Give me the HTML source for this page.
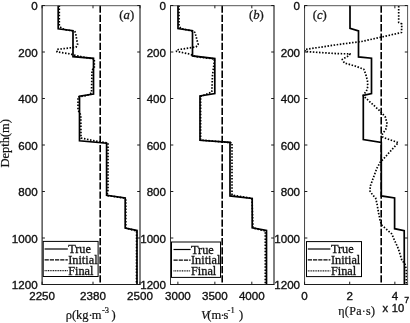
<!DOCTYPE html>
<html><head><meta charset="utf-8"><style>
html,body{margin:0;padding:0;background:#fff;}
svg{display:block;}
.tk{font-family:"Liberation Sans",Arial,sans-serif;font-size:11.6px;fill:#111;stroke:#111;stroke-width:0.35px;}
.al{font-family:"Liberation Serif","Times New Roman",serif;font-size:12.5px;fill:#111;stroke:#111;stroke-width:0.2px;}
.lg{font-family:"Liberation Serif","Times New Roman",serif;font-size:12.3px;fill:#111;stroke:#111;stroke-width:0.3px;}
.pl{font-family:"Liberation Serif","Times New Roman",serif;font-size:12.7px;fill:#1a1a1a;stroke:#1a1a1a;stroke-width:0.3px;}
</style></head><body>
<svg width="410" height="323" viewBox="0 0 410 323">
<rect width="410" height="323" fill="#fff"/>
<polyline points="59.30,5.50 59.30,26.00 62.00,28.50 66.00,29.80 74.50,31.20 75.50,32.60 77.60,44.60 76.00,47.20 57.00,49.40 57.00,51.90 70.40,53.90 73.50,55.00 85.00,57.50 94.30,59.00 94.30,68.00 92.00,70.00 91.50,93.00 87.00,95.50 78.00,97.00 78.00,110.00 80.80,115.00 81.00,138.00 95.00,141.00 108.00,143.00 108.00,190.00 107.00,195.50 124.00,198.00 125.80,200.00 125.80,228.00 136.60,231.00 136.50,284.00" fill="none" stroke="#000" stroke-width="1.7" stroke-dasharray="1.5 1.6" stroke-linejoin="round"/>
<line x1="100.20" y1="5.50" x2="100.20" y2="284.50" stroke="#000" stroke-width="1.6" stroke-dasharray="7.3 2.0"/>
<polyline points="58.20,5.50 58.20,28.80 73.00,30.70 73.00,56.60 93.50,58.40 93.50,94.00 79.50,96.20 79.50,140.80 106.60,143.20 106.60,195.30 125.20,198.00 125.20,228.00 137.00,230.40 137.00,284.00" fill="none" stroke="#000" stroke-width="1.7" stroke-linejoin="miter"/>
<rect x="43.20" y="241.40" width="54.90" height="35.10" fill="#fff" stroke="#000" stroke-width="1"/>
<line x1="44.60" y1="249.00" x2="67.80" y2="249.00" stroke="#000" stroke-width="1.2"/>
<text x="68.20" y="253.00" class="lg">True</text>
<line x1="44.60" y1="259.85" x2="67.80" y2="259.85" stroke="#000" stroke-width="1.2" stroke-dasharray="4.2 1.0"/>
<text x="68.20" y="263.85" class="lg">Initial</text>
<line x1="44.60" y1="270.70" x2="67.80" y2="270.70" stroke="#111" stroke-width="1.2" stroke-dasharray="1 0.7"/>
<text x="68.20" y="274.70" class="lg">Final</text>
<line x1="41.60" y1="5.70" x2="140.50" y2="5.70" stroke="#555" stroke-width="1"/>
<line x1="41.60" y1="284.50" x2="140.50" y2="284.50" stroke="#1e1e1e" stroke-width="1"/>
<line x1="42.10" y1="5.50" x2="42.10" y2="284.50" stroke="#000" stroke-width="1"/>
<line x1="140.00" y1="5.50" x2="140.00" y2="284.50" stroke="#000" stroke-width="1"/>
<line x1="42.10" y1="5.50" x2="44.90" y2="5.50" stroke="#1a1a1a" stroke-width="1"/>
<line x1="140.00" y1="5.50" x2="137.20" y2="5.50" stroke="#1a1a1a" stroke-width="1"/>
<text x="37.60" y="10.20" class="tk" text-anchor="end">0</text>
<line x1="42.10" y1="52.00" x2="44.90" y2="52.00" stroke="#1a1a1a" stroke-width="1"/>
<line x1="140.00" y1="52.00" x2="137.20" y2="52.00" stroke="#1a1a1a" stroke-width="1"/>
<text x="37.60" y="56.70" class="tk" text-anchor="end">200</text>
<line x1="42.10" y1="98.50" x2="44.90" y2="98.50" stroke="#1a1a1a" stroke-width="1"/>
<line x1="140.00" y1="98.50" x2="137.20" y2="98.50" stroke="#1a1a1a" stroke-width="1"/>
<text x="37.60" y="103.20" class="tk" text-anchor="end">400</text>
<line x1="42.10" y1="145.00" x2="44.90" y2="145.00" stroke="#1a1a1a" stroke-width="1"/>
<line x1="140.00" y1="145.00" x2="137.20" y2="145.00" stroke="#1a1a1a" stroke-width="1"/>
<text x="37.60" y="149.70" class="tk" text-anchor="end">600</text>
<line x1="42.10" y1="191.50" x2="44.90" y2="191.50" stroke="#1a1a1a" stroke-width="1"/>
<line x1="140.00" y1="191.50" x2="137.20" y2="191.50" stroke="#1a1a1a" stroke-width="1"/>
<text x="37.60" y="196.20" class="tk" text-anchor="end">800</text>
<line x1="42.10" y1="238.00" x2="44.90" y2="238.00" stroke="#1a1a1a" stroke-width="1"/>
<line x1="140.00" y1="238.00" x2="137.20" y2="238.00" stroke="#1a1a1a" stroke-width="1"/>
<text x="37.60" y="242.70" class="tk" text-anchor="end">1000</text>
<line x1="42.10" y1="284.50" x2="44.90" y2="284.50" stroke="#1a1a1a" stroke-width="1"/>
<line x1="140.00" y1="284.50" x2="137.20" y2="284.50" stroke="#1a1a1a" stroke-width="1"/>
<text x="37.60" y="289.20" class="tk" text-anchor="end">1200</text>
<line x1="42.10" y1="5.50" x2="42.10" y2="8.30" stroke="#1a1a1a" stroke-width="1"/>
<line x1="42.10" y1="284.50" x2="42.10" y2="281.70" stroke="#1a1a1a" stroke-width="1"/>
<text x="42.10" y="300.00" class="tk" text-anchor="middle">2250</text>
<line x1="93.01" y1="5.50" x2="93.01" y2="8.30" stroke="#1a1a1a" stroke-width="1"/>
<line x1="93.01" y1="284.50" x2="93.01" y2="281.70" stroke="#1a1a1a" stroke-width="1"/>
<text x="93.01" y="300.00" class="tk" text-anchor="middle">2380</text>
<line x1="140.00" y1="5.50" x2="140.00" y2="8.30" stroke="#1a1a1a" stroke-width="1"/>
<line x1="140.00" y1="284.50" x2="140.00" y2="281.70" stroke="#1a1a1a" stroke-width="1"/>
<text x="140.00" y="300.00" class="tk" text-anchor="middle">2500</text>
<text x="119.30" y="19.3" class="pl">(<tspan font-style="italic">a</tspan>)</text>
<polyline points="179.00,5.50 179.00,26.00 181.00,28.50 192.00,31.00 195.00,32.40 198.20,44.60 196.00,46.90 176.50,49.90 176.50,51.30 189.80,54.10 193.00,55.50 195.00,56.50 214.50,59.00 214.00,64.00 212.50,75.00 211.80,92.00 200.60,96.50 200.60,140.00 232.00,142.80 232.00,195.00 252.00,198.50 253.00,228.00 265.30,231.00 265.30,284.00" fill="none" stroke="#000" stroke-width="1.7" stroke-dasharray="1.5 1.6" stroke-linejoin="round"/>
<line x1="222.20" y1="5.50" x2="222.20" y2="284.50" stroke="#000" stroke-width="1.6" stroke-dasharray="7.3 2.0"/>
<polyline points="178.00,5.50 178.00,28.50 192.50,30.70 192.50,55.90 214.80,58.60 214.80,93.60 200.00,96.00 200.00,140.30 230.00,142.40 230.00,195.90 252.20,198.40 252.20,227.80 266.50,230.40 266.50,284.00" fill="none" stroke="#000" stroke-width="1.7" stroke-linejoin="miter"/>
<rect x="171.50" y="242.00" width="49.00" height="35.40" fill="#fff" stroke="#000" stroke-width="1"/>
<line x1="173.50" y1="249.50" x2="190.60" y2="249.50" stroke="#000" stroke-width="1.2"/>
<text x="191.00" y="253.50" class="lg">True</text>
<line x1="173.50" y1="260.20" x2="190.60" y2="260.20" stroke="#000" stroke-width="1.2" stroke-dasharray="4.2 1.0"/>
<text x="191.00" y="264.20" class="lg">Initial</text>
<line x1="173.50" y1="270.90" x2="190.60" y2="270.90" stroke="#111" stroke-width="1.2" stroke-dasharray="1 0.7"/>
<text x="191.00" y="274.90" class="lg">Final</text>
<line x1="170.00" y1="5.70" x2="274.50" y2="5.70" stroke="#555" stroke-width="1"/>
<line x1="170.00" y1="284.50" x2="274.50" y2="284.50" stroke="#1e1e1e" stroke-width="1"/>
<line x1="170.50" y1="5.50" x2="170.50" y2="284.50" stroke="#333" stroke-width="1"/>
<line x1="274.00" y1="5.50" x2="274.00" y2="284.50" stroke="#000" stroke-width="1"/>
<line x1="170.50" y1="5.50" x2="173.30" y2="5.50" stroke="#1a1a1a" stroke-width="1"/>
<line x1="274.00" y1="5.50" x2="271.20" y2="5.50" stroke="#1a1a1a" stroke-width="1"/>
<text x="166.00" y="10.20" class="tk" text-anchor="end">0</text>
<line x1="170.50" y1="52.00" x2="173.30" y2="52.00" stroke="#1a1a1a" stroke-width="1"/>
<line x1="274.00" y1="52.00" x2="271.20" y2="52.00" stroke="#1a1a1a" stroke-width="1"/>
<text x="166.00" y="56.70" class="tk" text-anchor="end">200</text>
<line x1="170.50" y1="98.50" x2="173.30" y2="98.50" stroke="#1a1a1a" stroke-width="1"/>
<line x1="274.00" y1="98.50" x2="271.20" y2="98.50" stroke="#1a1a1a" stroke-width="1"/>
<text x="166.00" y="103.20" class="tk" text-anchor="end">400</text>
<line x1="170.50" y1="145.00" x2="173.30" y2="145.00" stroke="#1a1a1a" stroke-width="1"/>
<line x1="274.00" y1="145.00" x2="271.20" y2="145.00" stroke="#1a1a1a" stroke-width="1"/>
<text x="166.00" y="149.70" class="tk" text-anchor="end">600</text>
<line x1="170.50" y1="191.50" x2="173.30" y2="191.50" stroke="#1a1a1a" stroke-width="1"/>
<line x1="274.00" y1="191.50" x2="271.20" y2="191.50" stroke="#1a1a1a" stroke-width="1"/>
<text x="166.00" y="196.20" class="tk" text-anchor="end">800</text>
<line x1="170.50" y1="238.00" x2="173.30" y2="238.00" stroke="#1a1a1a" stroke-width="1"/>
<line x1="274.00" y1="238.00" x2="271.20" y2="238.00" stroke="#1a1a1a" stroke-width="1"/>
<text x="166.00" y="242.70" class="tk" text-anchor="end">1000</text>
<line x1="170.50" y1="284.50" x2="173.30" y2="284.50" stroke="#1a1a1a" stroke-width="1"/>
<line x1="274.00" y1="284.50" x2="271.20" y2="284.50" stroke="#1a1a1a" stroke-width="1"/>
<text x="166.00" y="289.20" class="tk" text-anchor="end">1200</text>
<line x1="177.89" y1="5.50" x2="177.89" y2="8.30" stroke="#1a1a1a" stroke-width="1"/>
<line x1="177.89" y1="284.50" x2="177.89" y2="281.70" stroke="#1a1a1a" stroke-width="1"/>
<text x="177.89" y="300.00" class="tk" text-anchor="middle">3000</text>
<line x1="214.86" y1="5.50" x2="214.86" y2="8.30" stroke="#1a1a1a" stroke-width="1"/>
<line x1="214.86" y1="284.50" x2="214.86" y2="281.70" stroke="#1a1a1a" stroke-width="1"/>
<text x="214.86" y="300.00" class="tk" text-anchor="middle">3500</text>
<line x1="251.82" y1="5.50" x2="251.82" y2="8.30" stroke="#1a1a1a" stroke-width="1"/>
<line x1="251.82" y1="284.50" x2="251.82" y2="281.70" stroke="#1a1a1a" stroke-width="1"/>
<text x="251.82" y="300.00" class="tk" text-anchor="middle">4000</text>
<text x="248.90" y="19.3" class="pl">(<tspan font-style="italic">b</tspan>)</text>
<polyline points="398.70,5.90 398.70,22.40 401.80,24.00 401.50,32.50 380.90,37.20 361.50,41.50 339.00,44.40 305.00,49.50 305.00,51.50 338.00,53.70 350.10,53.80 348.80,55.70 342.20,59.40 344.40,63.00 355.00,66.00 363.80,69.20 365.80,74.50 367.40,80.60 367.80,86.50 366.30,91.60 363.40,94.50 363.40,95.90 381.00,112.00 385.40,117.10 387.10,123.70 385.70,129.50 382.40,133.90 382.20,136.00 383.00,137.40 398.30,142.60 383.00,159.40 380.70,161.50 377.00,168.00 373.40,177.60 370.50,185.60 369.80,190.70 372.70,195.10 375.60,197.90 377.00,203.80 378.50,212.60 380.00,219.90 381.50,225.00 386.60,229.40 391.70,233.80 393.90,238.90 398.30,248.60 402.00,260.70 404.80,263.40 406.30,269.00 406.30,284.00" fill="none" stroke="#000" stroke-width="1.7" stroke-dasharray="1.5 1.6" stroke-linejoin="round"/>
<line x1="381.20" y1="5.50" x2="381.20" y2="284.50" stroke="#000" stroke-width="1.6" stroke-dasharray="7.3 2.0"/>
<polyline points="350.00,5.50 350.00,28.40 358.50,31.00 358.50,56.90 371.50,58.20 371.50,93.50 363.30,95.50 363.30,139.60 381.30,142.40 381.30,195.90 394.60,198.00 394.60,228.70 404.20,230.60 404.40,284.00" fill="none" stroke="#000" stroke-width="1.7" stroke-linejoin="miter"/>
<rect x="306.50" y="241.60" width="55.00" height="35.00" fill="#fff" stroke="#000" stroke-width="1"/>
<line x1="307.80" y1="249.00" x2="330.40" y2="249.00" stroke="#000" stroke-width="1.2"/>
<text x="330.90" y="253.00" class="lg">True</text>
<line x1="307.80" y1="259.90" x2="330.40" y2="259.90" stroke="#000" stroke-width="1.2" stroke-dasharray="4.2 1.0"/>
<text x="330.90" y="263.90" class="lg">Initial</text>
<line x1="307.80" y1="270.80" x2="330.40" y2="270.80" stroke="#111" stroke-width="1.2" stroke-dasharray="1 0.7"/>
<text x="330.90" y="274.80" class="lg">Final</text>
<line x1="304.05" y1="5.70" x2="408.10" y2="5.70" stroke="#555" stroke-width="1"/>
<line x1="304.05" y1="284.50" x2="408.10" y2="284.50" stroke="#1e1e1e" stroke-width="1"/>
<line x1="304.55" y1="5.50" x2="304.55" y2="284.50" stroke="#444" stroke-width="1"/>
<line x1="407.60" y1="5.50" x2="407.60" y2="284.50" stroke="#555" stroke-width="1"/>
<line x1="304.55" y1="5.50" x2="307.35" y2="5.50" stroke="#1a1a1a" stroke-width="1"/>
<line x1="407.60" y1="5.50" x2="404.80" y2="5.50" stroke="#1a1a1a" stroke-width="1"/>
<text x="300.05" y="10.20" class="tk" text-anchor="end">0</text>
<line x1="304.55" y1="52.00" x2="307.35" y2="52.00" stroke="#1a1a1a" stroke-width="1"/>
<line x1="407.60" y1="52.00" x2="404.80" y2="52.00" stroke="#1a1a1a" stroke-width="1"/>
<text x="300.05" y="56.70" class="tk" text-anchor="end">200</text>
<line x1="304.55" y1="98.50" x2="307.35" y2="98.50" stroke="#1a1a1a" stroke-width="1"/>
<line x1="407.60" y1="98.50" x2="404.80" y2="98.50" stroke="#1a1a1a" stroke-width="1"/>
<text x="300.05" y="103.20" class="tk" text-anchor="end">400</text>
<line x1="304.55" y1="145.00" x2="307.35" y2="145.00" stroke="#1a1a1a" stroke-width="1"/>
<line x1="407.60" y1="145.00" x2="404.80" y2="145.00" stroke="#1a1a1a" stroke-width="1"/>
<text x="300.05" y="149.70" class="tk" text-anchor="end">600</text>
<line x1="304.55" y1="191.50" x2="307.35" y2="191.50" stroke="#1a1a1a" stroke-width="1"/>
<line x1="407.60" y1="191.50" x2="404.80" y2="191.50" stroke="#1a1a1a" stroke-width="1"/>
<text x="300.05" y="196.20" class="tk" text-anchor="end">800</text>
<line x1="304.55" y1="238.00" x2="307.35" y2="238.00" stroke="#1a1a1a" stroke-width="1"/>
<line x1="407.60" y1="238.00" x2="404.80" y2="238.00" stroke="#1a1a1a" stroke-width="1"/>
<text x="300.05" y="242.70" class="tk" text-anchor="end">1000</text>
<line x1="304.55" y1="284.50" x2="307.35" y2="284.50" stroke="#1a1a1a" stroke-width="1"/>
<line x1="407.60" y1="284.50" x2="404.80" y2="284.50" stroke="#1a1a1a" stroke-width="1"/>
<text x="300.05" y="289.20" class="tk" text-anchor="end">1200</text>
<line x1="304.55" y1="5.50" x2="304.55" y2="8.30" stroke="#1a1a1a" stroke-width="1"/>
<line x1="304.55" y1="284.50" x2="304.55" y2="281.70" stroke="#1a1a1a" stroke-width="1"/>
<text x="304.55" y="300.00" class="tk" text-anchor="middle">0</text>
<line x1="349.70" y1="5.50" x2="349.70" y2="8.30" stroke="#1a1a1a" stroke-width="1"/>
<line x1="349.70" y1="284.50" x2="349.70" y2="281.70" stroke="#1a1a1a" stroke-width="1"/>
<text x="349.70" y="300.00" class="tk" text-anchor="middle">2</text>
<line x1="394.86" y1="5.50" x2="394.86" y2="8.30" stroke="#1a1a1a" stroke-width="1"/>
<line x1="394.86" y1="284.50" x2="394.86" y2="281.70" stroke="#1a1a1a" stroke-width="1"/>
<text x="394.86" y="300.00" class="tk" text-anchor="middle">4</text>
<text x="312.70" y="19.3" class="pl">(<tspan font-style="italic">c</tspan>)</text>

<text transform="translate(8.9,143.3) rotate(-90)" class="al" text-anchor="middle">Depth(m)</text>
<text y="318.7" class="al"><tspan x="65.7">&#961;(kg&#183;</tspan><tspan x="91.7">m</tspan><tspan x="101.9" y="312.7" font-size="8.5">-3</tspan><tspan x="111.5" y="318.7">)</tspan></text>
<text y="318.7" class="al"><tspan x="201" font-style="italic">V</tspan><tspan x="207.3">(</tspan><tspan x="211.4">m</tspan><tspan x="220.6">&#183;</tspan><tspan x="223.5">s</tspan><tspan x="227.5" y="312.7" font-size="8.5">-</tspan><tspan x="230.5" y="312.7" font-size="8.5">1</tspan><tspan x="239.0" y="318.7">)</tspan></text>
<text x="338.3" y="315.3" class="al" style="font-size:12px;letter-spacing:0.3px">&#951;(Pa&#183;s)</text>
<text x="382.5" y="311.7" class="tk" style="font-size:11.2px">x</text>
<text x="391.7" y="311.7" class="tk" style="font-size:11.2px">10</text>
<text x="404.2" y="303.4" class="tk" style="font-size:8.8px">7</text>

</svg>
</body></html>
